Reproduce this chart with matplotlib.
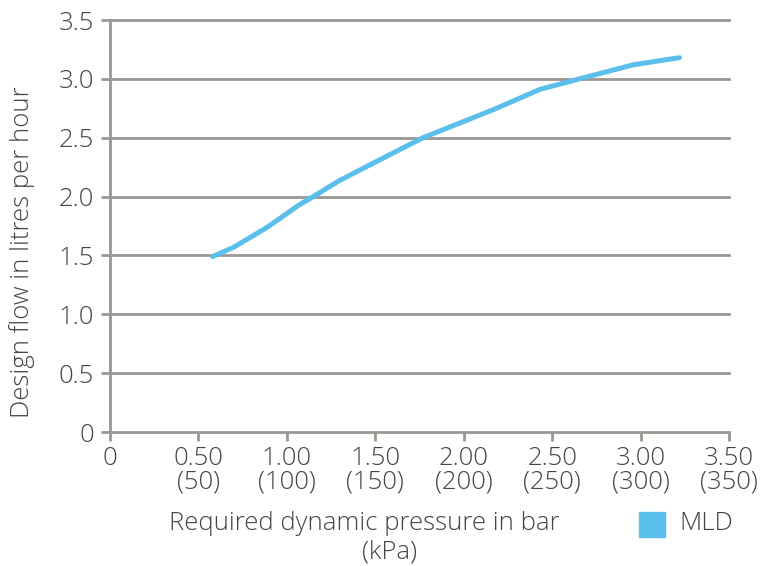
import matplotlib.pyplot as plt
from matplotlib.patches import Rectangle

# Design flow curve
pressure_bar = [0.58, 0.70, 0.89, 1.07, 1.15, 1.29, 1.47, 1.77, 2.17, 2.43,
                2.68, 2.96, 3.22]
flow_lph = [1.49, 1.57, 1.74, 1.93, 2.00, 2.13, 2.27, 2.50, 2.74, 2.91,
            3.01, 3.12, 3.18]

x_ticks = [0, 0.5, 1.0, 1.5, 2.0, 2.5, 3.0, 3.5]
x_labels = ["0", "0.50\n(50)", "1.00\n(100)", "1.50\n(150)", "2.00\n(200)",
            "2.50\n(250)", "3.00\n(300)", "3.50\n(350)"]
y_ticks = [0, 0.5, 1.0, 1.5, 2.0, 2.5, 3.0, 3.5]
y_labels = ["0", "0.5", "1.0", "1.5", "2.0", "2.5", "3.0", "3.5"]

LINE = "#5bbfeb"
GRID = "#9b9792"
TEXT = "#454545"

plt.rcParams["font.family"] = ["Open Sans", "DejaVu Sans"]
plt.rcParams["font.size"] = 18.5
plt.rcParams["font.weight"] = "light"

fig = plt.figure(figsize=(7.65, 5.66), dpi=100)
ax = fig.add_axes([110 / 765, 134 / 566, 619 / 765, 412 / 566])

ax.plot(pressure_bar, flow_lph, color=LINE, linewidth=3.6,
        solid_capstyle="round", solid_joinstyle="round", zorder=3)

ax.set_xlim(0, 3.5)
ax.set_ylim(0, 3.5)
ax.set_xticks(x_ticks)
ax.set_xticklabels(x_labels, linespacing=0.95)
ax.set_yticks(y_ticks)
ax.set_yticklabels(y_labels)

for y in y_ticks[1:]:
    ax.axhline(y, color=GRID, linewidth=2.0, zorder=1, clip_on=False)

for side in ["top", "right"]:
    ax.spines[side].set_visible(False)
for side in ["left", "bottom"]:
    ax.spines[side].set_color(GRID)
    ax.spines[side].set_linewidth(2.0)

ax.tick_params(axis="x", length=6.5, width=2.0, color=GRID, pad=3.5,
               labelcolor=TEXT)
ax.tick_params(axis="y", length=6.5, width=2.0, color=GRID, pad=5,
               labelcolor=TEXT)

fig.text(22 / 765, 1 - 252 / 566, "Design flow in litres per hour",
         rotation=90, ha="center", va="center", color=TEXT)
fig.text(364 / 765, 1 - 524 / 566, "Required dynamic pressure in bar",
         ha="center", va="center", color=TEXT)
fig.text(390 / 765, 1 - 552 / 566, "(kPa)", ha="center", va="center",
         color=TEXT)

fig.patches.append(Rectangle((639 / 765, 1 - 537 / 566), 26 / 765, 25 / 566,
                             transform=fig.transFigure, color=LINE))
fig.text(679 / 765, 1 - 524 / 566, "MLD", ha="left", va="center",
         color=TEXT)

fig.savefig("out.png", dpi=100)
